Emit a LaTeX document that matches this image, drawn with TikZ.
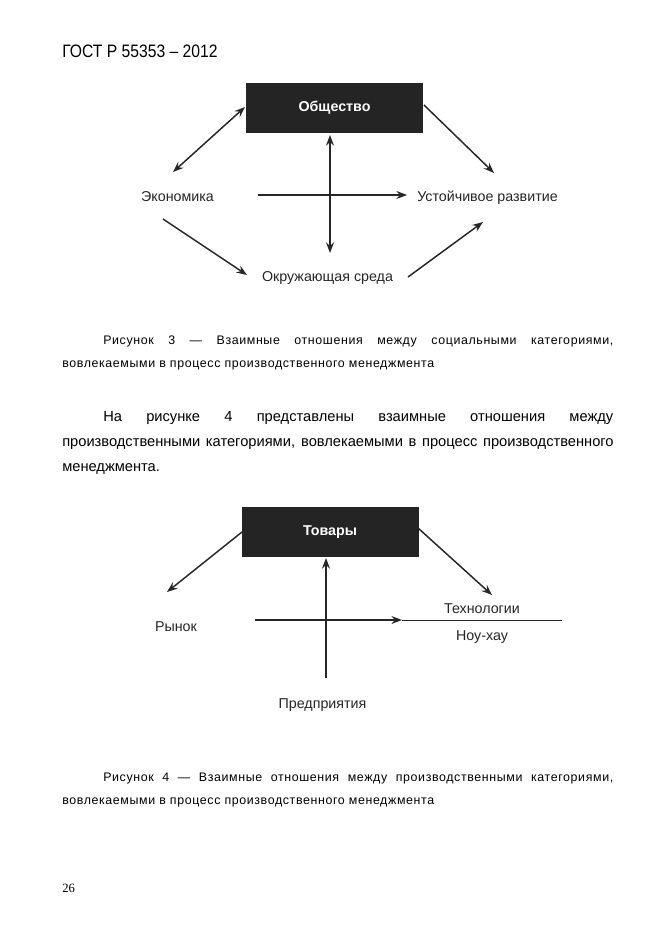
\documentclass[tikz,border=0pt]{standalone}
\usepackage{fontspec}
\setmainfont{Liberation Sans}
\newfontfamily\serifnum{Liberation Serif}
\newfontfamily\capfont[LetterSpace=5]{Liberation Sans}
\usetikzlibrary{arrows.meta}
\begin{document}
\begin{tikzpicture}[x=0.75pt,y=-0.75pt,
  tip/.tip={Stealth[length=8pt,width=6pt,inset=2.8pt]},
  arr/.style={line width=1.1pt,draw=black!85,-tip},
  darr/.style={line width=1.1pt,draw=black!85,tip-tip},
  lab/.style={font=\fontsize{10.7pt}{12pt}\selectfont,inner sep=0pt,anchor=base,text=black!85},
  blk/.style={fill=black!86,draw=black!86,text=white,font=\fontsize{10.7pt}{12pt}\selectfont\bfseries,
    minimum width=132pt,minimum height=36.5pt,inner sep=0pt},
  txt/.style={inner sep=0pt,anchor=base west},
  capt/.style={txt,font=\fontsize{9.3pt}{11pt}\capfont},
  para/.style={txt,font=\fontsize{11pt}{13pt}\selectfont}]
\useasboundingbox[fill=white] (0,0) rectangle (661,935);

% header
\node[txt,font=\fontsize{13.5pt}{16pt}\selectfont] (hdr) at (62,57) {\resizebox{116.5pt}{\height}{ГОСТ Р 55353 – 2012}};

% ---------- Figure 3 ----------
\node[blk] (soc) at (334.5,108) {Общество};
\node[lab] (eco) at (177.5,201.5) {Экономика};
\node[lab] (sus) at (487.5,201.5) {Устойчивое развитие};
\node[lab] (env) at (327.5,281.5) {Окружающая среда};

\coordinate (a1s) at (173,172);
\coordinate (a1e) at (245,107);
\coordinate (a2s) at (424,105);
\coordinate (a2e) at (494,173);
\coordinate (a3s) at (330,135);
\coordinate (a3e) at (330,253);
\coordinate (a4s) at (258,195);
\coordinate (a4e) at (407,195);
\coordinate (a5s) at (163,219);
\coordinate (a5e) at (247,275);
\coordinate (a6s) at (408,277);
\coordinate (a6e) at (483,222);

\draw[darr] (a1s) -- (a1e);
\draw[arr] (a2s) -- (a2e);
\draw[darr] (a3s) -- (a3e);
\draw[arr] (a4s) -- (a4e);
\draw[arr] (a5s) -- (a5e);
\draw[arr] (a6s) -- (a6e);

% caption 3
\node[capt] (c3a) at (103,344.5) {\makebox[382.5pt][s]{Рисунок 3 — Взаимные отношения между социальными категориями,}};
\node[capt] (c3b) at (62,367.5) {вовлекаемыми в процесс производственного менеджмента};

% paragraph
\node[para] (p1) at (103,421) {\makebox[382.5pt][s]{На рисунке 4 представлены взаимные отношения между}};
\node[para] (p2) at (62,446) {\makebox[413.5pt][s]{производственными категориями, вовлекаемыми в процесс производственного}};
\node[para] (p3) at (62,471) {менеджмента.};

% ---------- Figure 4 ----------
\node[blk] (gds) at (330,532) {Товары};
\node[lab] (mkt) at (176,631.5) {Рынок};
\node[lab] (tec) at (482,613.5) {Технологии};
\node[lab] (kh) at (482,640) {Ноу-хау};
\node[lab] (ent) at (322.5,708) {Предприятия};

\coordinate (b1s) at (242,532);
\coordinate (b1e) at (167,592);
\coordinate (b2s) at (418,528);
\coordinate (b2e) at (492,595);
\coordinate (b3s) at (326,678);
\coordinate (b3e) at (326,558);
\coordinate (b4s) at (255,620);
\coordinate (b4e) at (402,620);
\coordinate (b5e) at (562,620);

\draw[arr] (b1s) -- (b1e);
\draw[arr] (b2s) -- (b2e);
\draw[arr] (b3s) -- (b3e);
\draw[arr] (b4s) -- (b4e);
\draw[line width=0.75pt,black!85] (b4e) -- (b5e);

% caption 4
\node[capt] (c4a) at (103,781.5) {\makebox[382.5pt][s]{Рисунок 4 — Взаимные отношения между производственными категориями,}};
\node[capt] (c4b) at (62,804.5) {вовлекаемыми в процесс производственного менеджмента};

% page number
\node[txt,font=\fontsize{9.5pt}{11pt}\serifnum] (pg) at (62,892) {26};
\end{tikzpicture}
\end{document}
